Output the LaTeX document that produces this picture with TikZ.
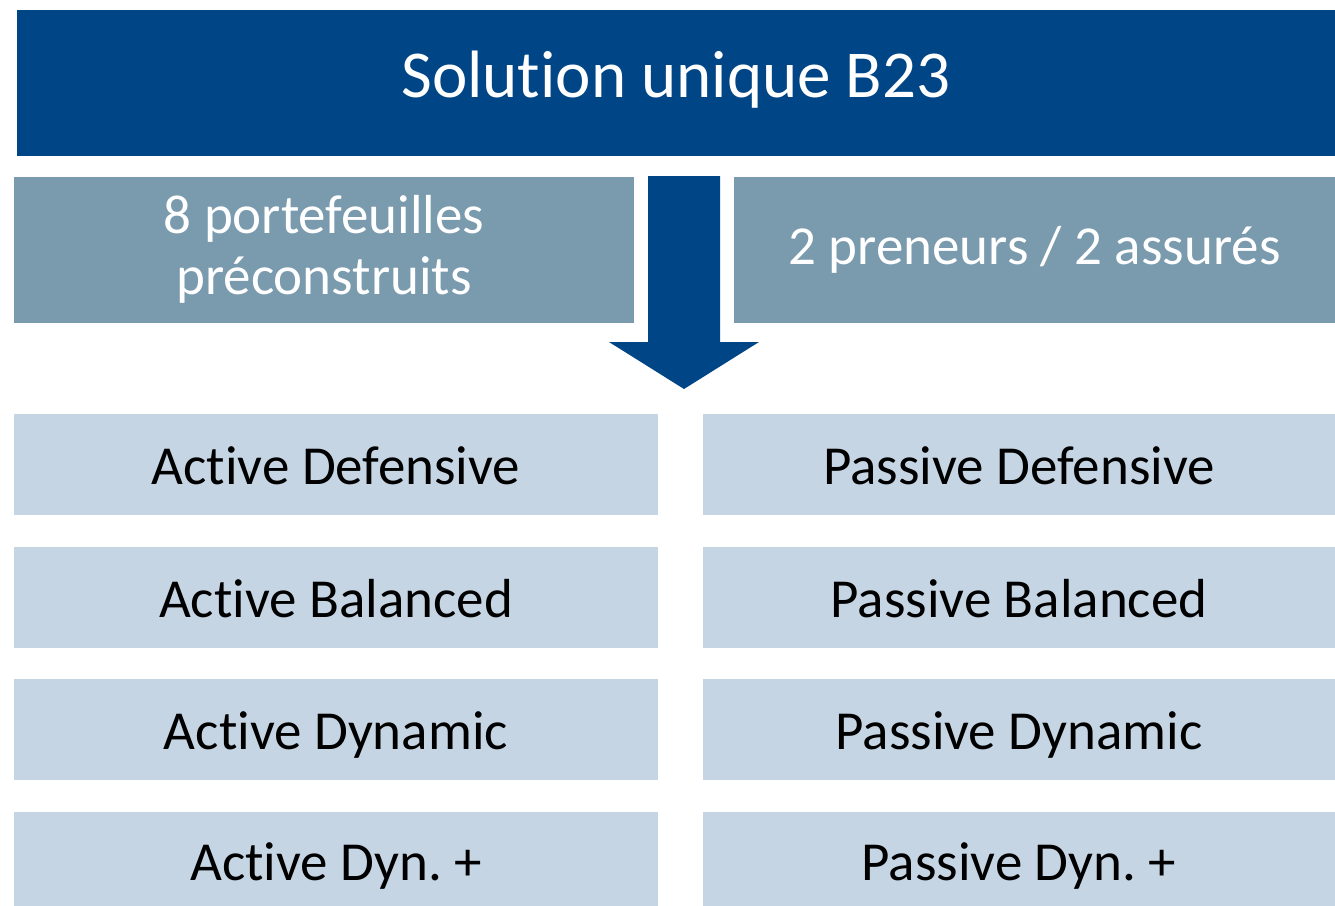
\documentclass[tikz,border=0pt]{standalone}
\usepackage{fontspec}
\setmainfont{Carlito}[Ligatures=NoCommon]
\frenchspacing
\usetikzlibrary{positioning}
\definecolor{darkblue}{HTML}{004585}
\definecolor{greyblue}{HTML}{7A9AAE}
\definecolor{lightblue}{HTML}{C5D5E4}

\begin{document}
\begin{tikzpicture}[
		x=1pt, y=-1pt,
		node distance=31.5pt and 45pt,
		every node/.style={inner sep=0pt, outer sep=0pt, align=center},
		title/.style={fill=darkblue, text=white, minimum width=1318pt, minimum height=146pt, text height=29pt, text depth=0pt, font=\fontsize{67}{80}\selectfont},
		info/.style={fill=greyblue, text=white, minimum height=146pt, font=\fontsize{55}{61}\selectfont},
		choice/.style={fill=lightblue, text=black, minimum height=101pt, text height=40pt, text depth=0pt, font=\fontsize{55}{61}\selectfont}
		]
		\useasboundingbox (0,0) rectangle (1335,905);
		% Header
		\node[title] at (676,82.5) (head) {Solution unique B23};
		\node[info, minimum width=620pt] at (324,249.5) (portf) {8 portefeuilles\\préconstruits};
		\node[info, minimum width=601pt, text height=30pt, text depth=0pt] at (1034.5,249.5) (pren) {2 preneurs / 2 assurés};
		
		% Down arrow
		\fill[darkblue] (648,176) -- (720,176) -- (720,342) -- (759,342) -- (684,389) -- (609,342) -- (648,342) -- cycle;
		
		% Active portfolios
		\node[choice, minimum width=644pt] at (336,464.5) (actdef) {Active Defensive};
		\node[choice, minimum width=644pt, below = of actdef] (actbal) {Active Balanced};
		\node[choice, minimum width=644pt, below = of actbal] (actdyn) {Active Dynamic};
		\node[choice, minimum width=644pt, minimum height=94pt, text height=44pt, below = of actdyn] (actplus) {Active Dyn. +};
		
		% Passive portfolios
		\node[choice, minimum width=632pt] at (1019,464.5) (pasdef) {Passive Defensive};
		\node[choice, minimum width=632pt, below = of pasdef] (pasbal) {Passive Balanced};
		\node[choice, minimum width=632pt, below = of pasbal] (pasdyn) {Passive Dynamic};
		\node[choice, minimum width=632pt, minimum height=94pt, text height=44pt, below = of pasdyn] (pasplus) {Passive Dyn. +};
	\end{tikzpicture}
\end{document}
